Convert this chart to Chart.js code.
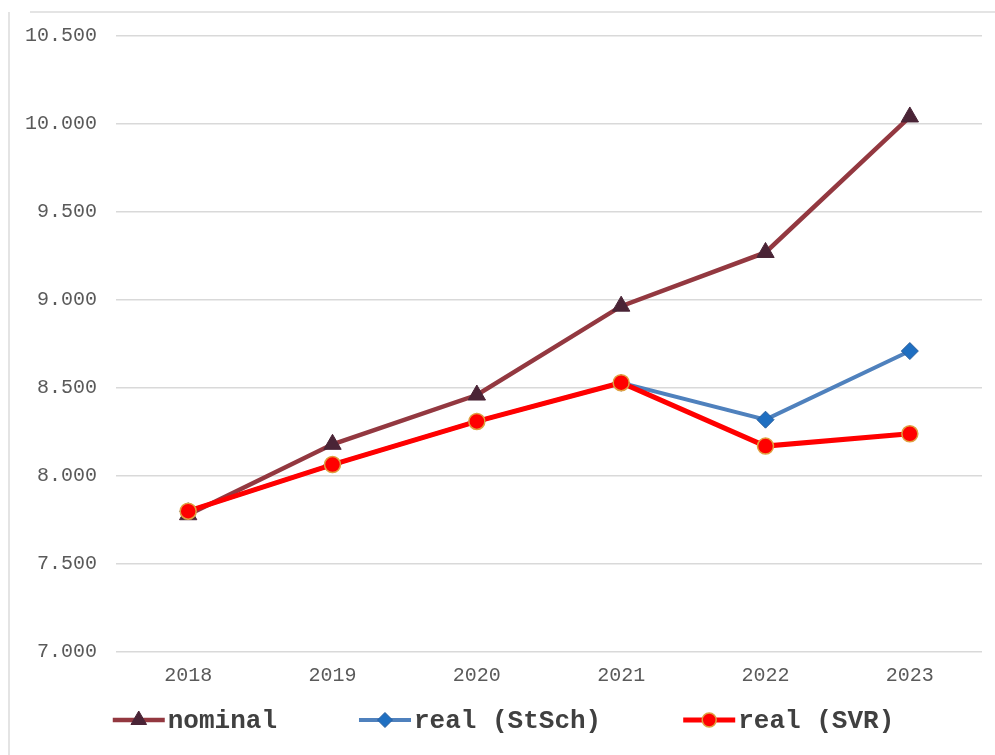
<!DOCTYPE html>
<html>
<head>
<meta charset="utf-8">
<script src="https://cdn.jsdelivr.net/npm/chart.js@4/dist/chart.umd.min.js"></script>
<style>
  html, body { margin: 0; padding: 0; background: #ffffff; }
  #c { display: block; }
</style>
</head>
<body>
<canvas id="c" width="995" height="755"></canvas>
<script>
// Years on the category axis
const years = ['2018', '2019', '2020', '2021', '2022', '2023'];

// Series values
const nominal   = [7780, 8180, 8460, 8965, 9270, 10040];
const realStSch = [7800, 8065, 8310, 8530, 8320, 8710];
const realSVR   = [7800, 8065, 8310, 8530, 8170, 8240];

// Value-axis ticks
const yTicks = [7000, 7500, 8000, 8500, 9000, 9500, 10000, 10500];

// Series names
const seriesNames = ['nominal', 'real (StSch)', 'real (SVR)'];

const MONO = '"Liberation Mono", "Courier New", monospace';

// German thousands separator: 10500 -> "10.500"
function fmt(v) {
  return String(Math.round(v)).replace(/\B(?=(\d{3})+(?!\d))/g, '.');
}

function drawMarker(ctx, style, x, y, r, fill, stroke, bw) {
  ctx.save();
  ctx.fillStyle = fill;
  ctx.strokeStyle = stroke;
  ctx.lineWidth = bw;
  if (Chart.helpers && Chart.helpers.drawPoint) {
    Chart.helpers.drawPoint(ctx, { pointStyle: style, radius: r, borderWidth: bw, rotation: 0 }, x, y);
  } else {
    ctx.beginPath();
    ctx.arc(x, y, r, 0, Math.PI * 2);
    ctx.fill();
    if (bw > 0) ctx.stroke();
  }
  ctx.restore();
}

// White page with the thin outer frame
const framePlugin = {
  id: 'frame',
  beforeDraw(chart) {
    const ctx = chart.ctx;
    ctx.save();
    ctx.fillStyle = '#ffffff';
    ctx.fillRect(0, 0, chart.width, chart.height);
    ctx.strokeStyle = '#e4e4e4';
    ctx.lineWidth = 2;
    ctx.beginPath();
    ctx.moveTo(9, 12);
    ctx.lineTo(9, chart.height);
    ctx.moveTo(30, 12);
    ctx.lineTo(chart.width, 12);
    ctx.stroke();
    ctx.restore();
  }
};

// Legend row: line sample with its marker, then the series name
const legendPlugin = {
  id: 'seriesLegend',
  afterDraw(chart) {
    const ctx = chart.ctx;
    ctx.save();
    ctx.font = 'bold 26px ' + MONO;
    const sampleW = 52, gapText = 3, gapItem = 82;
    const items = chart.data.datasets.map(ds => ({
      ds, w: sampleW + gapText + ctx.measureText(ds.label).width
    }));
    const total = items.reduce((s, it) => s + it.w, 0) + gapItem * (items.length - 1);
    let x = chart.width / 2 - total / 2 + 6;
    const y = chart.height - 35;
    items.forEach(it => {
      const ds = it.ds;
      ctx.strokeStyle = ds.borderColor;
      ctx.lineWidth = ds.borderWidth;
      ctx.beginPath();
      ctx.moveTo(x, y);
      ctx.lineTo(x + sampleW, y);
      ctx.stroke();
      drawMarker(ctx, ds.pointStyle, x + sampleW / 2, y, ds.pointRadius - 1,
                 ds.pointBackgroundColor, ds.pointBorderColor, ds.pointBorderWidth);
      ctx.fillStyle = '#404040';
      ctx.textBaseline = 'middle';
      ctx.textAlign = 'left';
      ctx.fillText(ds.label, x + sampleW + gapText, y + 1);
      x += it.w + gapItem;
    });
    ctx.restore();
  }
};

new Chart(document.getElementById('c'), {
  type: 'line',
  data: {
    labels: years,
    datasets: [
      {
        label: seriesNames[0],
        data: nominal,
        borderColor: '#933840',
        borderWidth: 4.5,
        pointStyle: 'triangle',
        pointRadius: 10,
        pointBackgroundColor: '#4a2436',
        pointBorderColor: '#4a2436',
        pointBorderWidth: 1,
        tension: 0,
        order: 3
      },
      {
        label: seriesNames[1],
        data: realStSch,
        borderColor: '#4f81bd',
        borderWidth: 4,
        pointStyle: 'rectRot',
        pointRadius: 8.5,
        pointBackgroundColor: '#1f6fc1',
        pointBorderColor: '#2a5f9e',
        pointBorderWidth: 1,
        tension: 0,
        order: 2
      },
      {
        label: seriesNames[2],
        data: realSVR,
        borderColor: '#ff0000',
        borderWidth: 5,
        pointStyle: 'circle',
        pointRadius: 8,
        pointBackgroundColor: '#ff0000',
        pointBorderColor: '#e0a040',
        pointBorderWidth: 1.5,
        tension: 0,
        order: 1
      }
    ]
  },
  options: {
    responsive: false,
    animation: false,
    layout: { padding: { left: 6, right: 13, top: 36, bottom: 55 } },
    plugins: {
      legend: { display: false },
      tooltip: { enabled: false }
    },
    scales: {
      x: {
        offset: true,
        grid: { display: false, drawTicks: false },
        border: { display: false },
        ticks: {
          padding: 12,
          color: '#5a5a5a',
          font: { family: MONO, size: 20 }
        }
      },
      y: {
        min: 7000,
        max: 10500,
        afterBuildTicks(scale) {
          scale.ticks = yTicks.map(v => ({ value: v }));
        },
        grid: { color: '#d9d9d9', lineWidth: 1.5, drawTicks: false },
        border: { display: false },
        ticks: {
          padding: 19,
          color: '#5a5a5a',
          font: { family: MONO, size: 20 },
          callback: v => fmt(v)
        }
      }
    }
  },
  plugins: [framePlugin, legendPlugin]
});
</script>
</body>
</html>
